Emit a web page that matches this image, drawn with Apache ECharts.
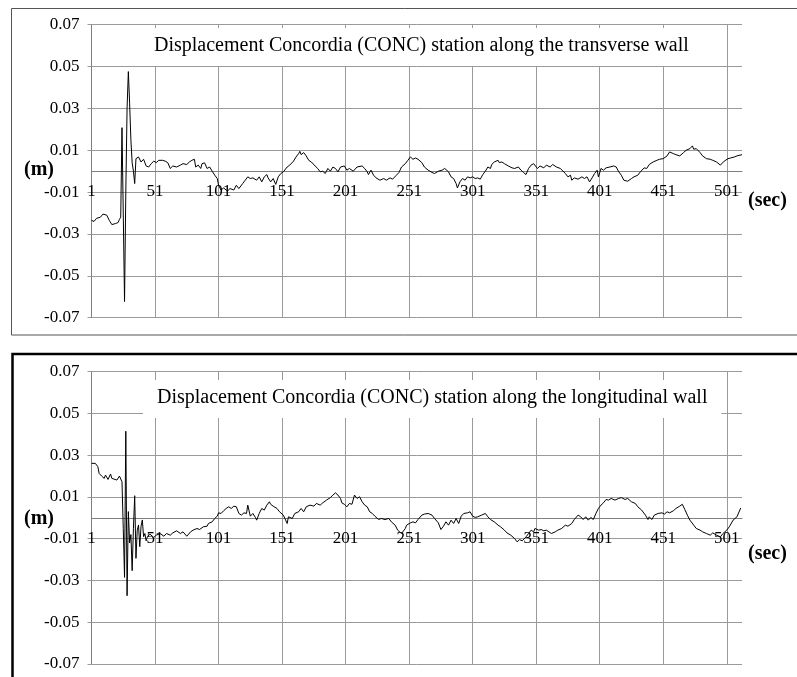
<!DOCTYPE html>
<html>
<head>
<meta charset="utf-8">
<script src="https://cdn.jsdelivr.net/npm/echarts@6/dist/echarts.min.js"></script>
<style>
html,body{margin:0;padding:0;background:#fff;}
#c{width:797px;height:677px;}
</style>
</head>
<body>
<div id="c"></div>
<script>
// ---- data (seconds, displacement in m) ----
const titleTop = 'Displacement Concordia (CONC) station along the transverse wall';
const titleBottom = 'Displacement Concordia (CONC) station along the longitudinal wall';
const xTicks = [1, 51, 101, 151, 201, 251, 301, 351, 401, 451, 501];
const yTicks = [-0.07, -0.05, -0.03, -0.01, 0.01, 0.03, 0.05, 0.07];

const tTop = [1,3,5,8,10,13,15,17,20,22,23,24,25,26,27,28,29,30,31,32,33,34,35,36,38,40,42,44,46,48,50,52,54,57,59,61,63,65,68,71,73,76,78,80,82,83,85,87,88,90,92,94,96,98,100,101,103,105,108,110,113,115,117,120,122,124,126,128,131,133,135,137,139,140,142,144,146,148,150,152,155,157,160,162,164,165,166,168,170,172,174,177,179,181,183,185,187,189,191,193,195,197,198,200,202,204,207,210,211,214,216,218,219,221,223,225,228,231,233,236,238,241,243,245,248,250,252,254,256,258,261,263,266,269,271,274,277,279,282,284,286,288,289,291,293,295,297,299,301,303,305,307,309,311,313,315,316,318,321,322,324,326,329,332,334,337,339,341,343,345,347,349,350,352,354,357,359,362,364,367,370,371,374,376,378,379,381,384,387,389,391,393,395,397,399,400,402,404,406,409,412,414,416,418,420,423,426,428,431,433,436,438,440,443,446,448,451,454,456,459,461,464,467,469,472,474,475,477,480,482,485,488,490,493,496,497,499,502,504,507,509,513];
const vTop = [-0.0235,-0.024,-0.0225,-0.022,-0.0205,-0.021,-0.0235,-0.0255,-0.025,-0.0245,-0.023,-0.022,0.0208,-0.02,-0.0623,-0.01,0.03,0.0476,0.0325,0.015,0.004,0.0,-0.0059,0.006,0.0068,0.0044,0.0057,0.0025,0.002,0.0036,0.0048,0.0041,0.0052,0.0052,0.0048,0.0041,0.0013,0.0025,0.002,0.0029,0.0036,0.0032,0.0044,0.0052,0.0057,0.002,0.0029,0.0013,0.0036,0.004,0.0013,0.002,0.0,-0.0019,-0.0035,-0.0067,-0.009,-0.008,-0.0095,-0.0083,-0.009,-0.0067,-0.0083,-0.0059,-0.0043,-0.0027,-0.0035,-0.0032,-0.0043,-0.0027,-0.0051,-0.0027,-0.0016,-0.0032,-0.0051,-0.0035,-0.0063,-0.0027,-0.0011,-0.0003,0.002,0.0029,0.0048,0.0068,0.0084,0.0095,0.0079,0.0089,0.0073,0.0052,0.0044,0.0025,0.0013,-0.0003,0.0,-0.0011,0.0013,0.0,0.002,0.0013,-0.0003,0.002,0.0016,0.0025,0.0005,0.0013,0.0,0.002,0.0013,0.0025,0.0013,-0.0003,-0.0016,0.0005,-0.0019,-0.0032,-0.0043,-0.0035,-0.0043,-0.0032,-0.0038,-0.0019,-0.0006,0.002,0.0036,0.0052,0.0068,0.0057,0.0063,0.0057,0.0041,0.002,0.0005,-0.0006,-0.0011,0.0,0.0005,0.0013,-0.0003,-0.0027,-0.0035,-0.0059,-0.008,-0.0051,-0.0035,-0.0043,-0.0027,-0.0032,-0.0027,-0.0035,-0.0032,-0.0038,-0.0016,0.0,0.002,0.0013,0.0032,0.0044,0.0052,0.0041,0.0044,0.0036,0.0025,0.0016,0.0013,0.002,0.0005,-0.0006,-0.0016,0.0013,0.0029,0.0036,0.0029,0.0013,0.0025,0.0016,0.0029,0.002,0.0032,0.002,0.0013,0.002,-0.0011,-0.0027,-0.0019,-0.0043,-0.0032,-0.0038,-0.0027,-0.0035,-0.0027,-0.0051,-0.0032,-0.0011,0.0005,-0.0027,0.0013,0.0005,0.0016,0.002,0.0025,0.002,-0.0003,-0.0019,-0.0043,-0.0048,-0.0035,-0.0027,-0.0019,-0.0003,0.0016,0.0013,0.0032,0.0044,0.0052,0.0057,0.006,0.0073,0.0092,0.0084,0.0079,0.0073,0.0089,0.01,0.0108,0.0121,0.0105,0.0108,0.0089,0.0073,0.006,0.0057,0.0052,0.0044,0.0029,0.002,0.0048,0.006,0.0063,0.0068,0.0073,0.0079];

const tBot = [1,4,6,7,9,11,12,14,16,17,21,22,23,25,26,27,28,29,30,31,32,33,34,35,36,37,38,39,40,41,42,43,44,45,47,50,52,55,58,60,63,65,68,71,73,76,79,81,84,86,89,92,93,96,98,100,101,103,105,107,109,111,113,115,117,119,121,123,124,126,128,130,131,133,135,137,139,141,142,144,147,149,152,155,156,159,161,164,166,168,170,173,176,178,181,183,186,189,191,193,195,197,198,200,202,204,206,208,210,212,214,216,218,220,222,224,227,229,232,235,237,240,242,245,246,248,249,252,254,256,258,261,263,266,269,271,274,276,278,280,282,284,286,288,290,292,294,297,299,301,303,305,308,311,313,315,318,321,323,326,328,331,334,336,338,340,343,345,347,349,350,353,355,357,359,361,363,366,368,371,374,376,379,381,384,386,388,390,392,394,396,398,400,402,404,406,408,410,413,416,418,421,423,426,429,431,434,437,439,440,442,444,447,450,452,454,456,459,461,464,466,468,470,472,475,477,480,482,485,488,490,493,496,498,501,503,506,509,512];
const vBot = [0.0261,0.0261,0.0245,0.0213,0.02,0.0189,0.0205,0.0184,0.021,0.0189,0.0181,0.0173,0.02,0.0173,-0.005,-0.0285,0.0415,-0.0373,0.003,-0.012,-0.008,-0.0253,-0.005,0.0106,-0.0194,-0.006,-0.0034,-0.0138,-0.004,-0.001,-0.009,-0.0075,-0.011,-0.0091,-0.0078,-0.0094,-0.0083,-0.0075,-0.0088,-0.0075,-0.0083,-0.0072,-0.0062,-0.0075,-0.0067,-0.0088,-0.0067,-0.0059,-0.0051,-0.0056,-0.0043,-0.004,-0.0027,-0.0019,-0.0003,0.0008,0.0024,0.0021,0.0034,0.0045,0.0053,0.0045,0.0056,0.0053,0.0021,0.0013,0.0024,0.0021,0.0061,0.0008,0.0021,0.0002,-0.0011,0.0021,0.0045,0.0037,0.0061,0.0077,0.0065,0.0056,0.0045,0.0029,0.0013,-0.0027,0.0005,-0.0003,0.0021,0.0029,0.0045,0.0029,0.0053,0.0061,0.0056,0.0069,0.0061,0.0072,0.0085,0.0097,0.0109,0.012,0.0109,0.0093,0.0072,0.0065,0.0053,0.0069,0.0065,0.0109,0.0093,0.0101,0.0077,0.0061,0.0053,0.0029,0.0021,0.0008,-0.0008,-0.0003,-0.0008,-0.0003,-0.0019,-0.0035,-0.0059,-0.0075,-0.0072,-0.0051,-0.0035,-0.0024,-0.0019,-0.0024,-0.0008,0.0013,0.0018,0.0021,0.0013,-0.0003,-0.0024,-0.0056,-0.004,-0.0019,-0.0035,-0.0011,-0.0027,-0.0003,-0.0027,0.0008,0.0021,0.0024,0.0029,0.0008,0.0002,0.0005,0.0013,0.0021,0.0005,-0.0008,-0.0019,-0.0035,-0.0043,-0.0059,-0.0072,-0.0083,-0.0099,-0.0115,-0.0104,-0.011,-0.0091,-0.0075,-0.0059,-0.0067,-0.0051,-0.0059,-0.0056,-0.0062,-0.0059,-0.0067,-0.0075,-0.0067,-0.0059,-0.0051,-0.0035,-0.004,-0.0027,-0.0008,0.0013,0.0005,-0.0008,0.0005,-0.0011,0.0002,-0.0008,0.0021,0.0045,0.0061,0.0072,0.0088,0.0085,0.0093,0.0085,0.0093,0.0097,0.0088,0.0093,0.0077,0.0069,0.0053,0.0037,0.0013,-0.0008,0.0005,-0.0008,0.0013,0.0021,0.0024,0.0018,0.0029,0.0024,0.0034,0.0045,0.0056,0.0065,0.004,0.0013,-0.0011,-0.0035,-0.0051,-0.0059,-0.0067,-0.0075,-0.0083,-0.0072,-0.0083,-0.0091,-0.0075,-0.0059,-0.0043,-0.0011,0.0005,0.0047];

// ---- styles ----
const serif = '"Liberation Serif", "Times New Roman", serif';
const gridColor = '#9a9a9a';
const axisColor = '#7f7f7f';

function makeX(gi, off) {
  return {
    gridIndex: gi, type: 'value', min: 1, max: 513, position: 'bottom', offset: off,
    axisLine: { show: true, onZero: false, lineStyle: { color: axisColor, width: 1.2 } },
    axisTick: { show: false, customValues: xTicks },
    axisLabel: { customValues: xTicks, margin: 12, color: '#000', fontFamily: serif, fontSize: 17 },
    splitLine: { show: true, lineStyle: { color: gridColor, width: 1 } }
  };
}
function makeY(gi) {
  return {
    gridIndex: gi, type: 'value', min: -0.07, max: 0.07,
    axisLine: { show: true, onZero: false, lineStyle: { color: axisColor, width: 1 } },
    axisTick: { show: true, inside: false, length: 4, customValues: yTicks, lineStyle: { color: gridColor } },
    axisLabel: { customValues: yTicks, margin: 12, color: '#000', fontFamily: serif, fontSize: 17,
      formatter: v => v.toFixed(2) },
    splitLine: { show: true, lineStyle: { color: gridColor, width: 1 } }
  };
}
function pairs(ts, vs) { return ts.map((t, i) => [t, vs[i]]); }

const chart = echarts.init(document.getElementById('c'), null, { renderer: 'canvas' });
chart.setOption({
  animation: false,
  backgroundColor: '#fff',
  title: [
    { text: titleTop, left: 140, top: 28, padding: [8, 14, 10, 14], backgroundColor: '#fff',
      textStyle: { fontFamily: serif, fontWeight: 'normal', fontSize: 20, color: '#000' } },
    { text: titleBottom, left: 143, top: 380, padding: [8, 14, 10, 14], backgroundColor: '#fff',
      textStyle: { fontFamily: serif, fontWeight: 'normal', fontSize: 20, color: '#000' } }
  ],
  grid: [
    { left: 91.5, right: 55, top: 24.7, height: 293 },
    { left: 91.5, right: 55, top: 371.7, height: 292.3 }
  ],
  xAxis: [makeX(0, -146.5), makeX(1, -146.15)],
  yAxis: [makeY(0), makeY(1)],
  series: [
    { type: 'line', xAxisIndex: 0, yAxisIndex: 0, data: pairs(tTop, vTop), showSymbol: false,
      lineStyle: { color: '#000', width: 1 }, z: 3 },
    { type: 'line', xAxisIndex: 1, yAxisIndex: 1, data: pairs(tBot, vBot), showSymbol: false,
      lineStyle: { color: '#000', width: 1 }, z: 3 }
  ],
  graphic: [
    { type: 'rect', shape: { x: 11.5, y: 8.5, width: 820, height: 326.5 },
      style: { fill: 'none', stroke: '#555', lineWidth: 1 }, silent: true, z: -1 },
    { type: 'rect', shape: { x: 12.5, y: 354, width: 820, height: 400 },
      style: { fill: 'none', stroke: '#000', lineWidth: 2.5 }, silent: true, z: -1 },
    { type: 'text', x: 24, y: 170, style: { text: '(m)', fontFamily: serif, fontWeight: 'bold', fontSize: 20, fill: '#000', verticalAlign: 'middle' } },
    { type: 'text', x: 748, y: 200.5, style: { text: '(sec)', fontFamily: serif, fontWeight: 'bold', fontSize: 20, fill: '#000', verticalAlign: 'middle' } },
    { type: 'text', x: 24, y: 519, style: { text: '(m)', fontFamily: serif, fontWeight: 'bold', fontSize: 20, fill: '#000', verticalAlign: 'middle' } },
    { type: 'text', x: 748, y: 554, style: { text: '(sec)', fontFamily: serif, fontWeight: 'bold', fontSize: 20, fill: '#000', verticalAlign: 'middle' } }
  ]
});
</script>
</body>
</html>
